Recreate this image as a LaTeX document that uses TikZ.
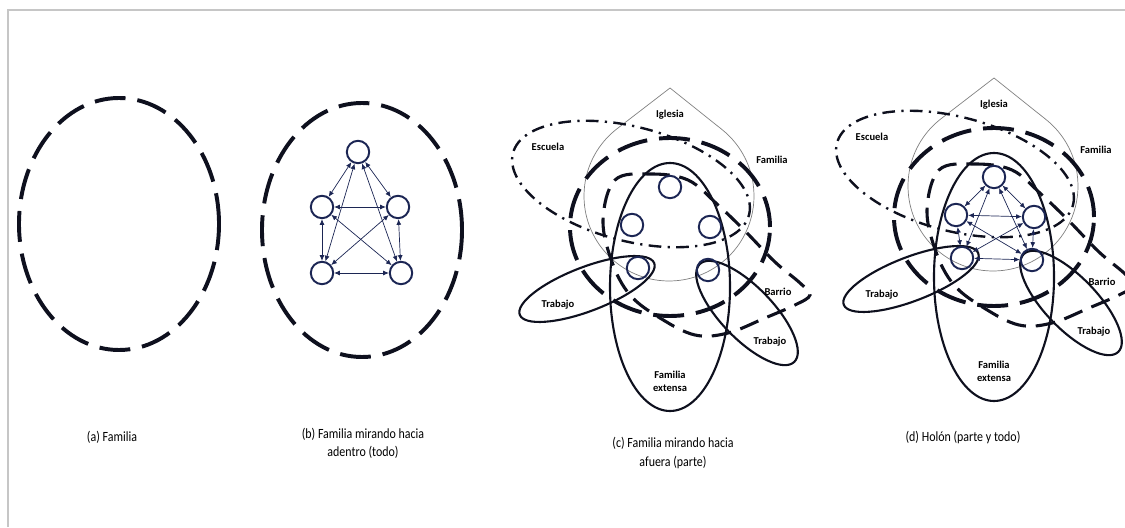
\documentclass[tikz,border=0pt]{standalone}
\usepackage{fontspec}
\setmainfont{Carlito}
\newfontfamily\leyfont[FakeStretch=0.85]{Carlito}
\usetikzlibrary{arrows.meta}
\definecolor{tinta}{RGB}{14,16,30}
\definecolor{marino}{RGB}{28,38,84}
\tikzset{
  famdash/.style={draw=tinta, line width=2.8pt, dash pattern=on 22pt off 8.5pt},
  barriodash/.style={draw=tinta, line width=2.2pt, dash pattern=on 14pt off 7pt},
  escueladash/.style={draw=tinta, line width=1.7pt, dash pattern=on 9pt off 4.5pt on 1.6pt off 4.5pt},
  iglesia/.style={draw=gray, line width=0.5pt},
  sistema/.style={draw=tinta, line width=1.5pt},
  miembro/.style={draw=marino, circle, line width=1.4pt, minimum size=0.56cm, inner sep=0pt},
  relacion/.style={draw=marino, line width=0.5pt, {Latex[length=4pt,width=3.5pt]}-{Latex[length=4pt,width=3.5pt]}},
  etiqueta/.style={font=\bfseries\fontsize{7.5}{9.2}\selectfont, inner sep=0pt, align=center},
  leyenda/.style={font=\leyfont\fontsize{10}{13}\selectfont, inner sep=0pt, align=center}
}

\begin{document}
\begin{tikzpicture}[x=0.025cm, y=0.025cm]
  \useasboundingbox (0,0) rectangle (1125,527);
  \draw[gray!45, line width=0.9pt] (8,0) -- (8,517) -- (1125,517);

  % (a) familia sola
  \draw[famdash] (119,303) ellipse [x radius=100, y radius=126];
  \node[leyenda] (capa) at (112,90) {(a) Familia};

  % (b) mirando hacia adentro
  \draw[famdash] (362,297) ellipse [x radius=100, y radius=127];
  \node[miembro] (b1) at (358,375) {};
  \node[miembro] (b2) at (322,320) {};
  \node[miembro] (b3) at (398,320) {};
  \node[miembro] (b4) at (322,254) {};
  \node[miembro] (b5) at (401,254) {};
  \foreach \i/\j in {1/2,1/3,1/4,1/5,2/3,2/4,2/5,3/4,3/5,4/5}
    \draw[relacion] (b\i) -- (b\j);
  \node[leyenda] (capb) at (363,84) {(b) Familia mirando hacia\\adentro (todo)};

  % (c) y (d): los sistemas de fuera
  \foreach \pan/\dx/\dy in {c/0/0, d/324/10}{
    \begin{scope}[shift={(\dx,\dy)}]
      \draw[iglesia] (670,439) -- ([shift={(128.1:85)}]669,331)
        arc[start angle=128.1, end angle=411.9, radius=85] -- cycle;
      \draw[escueladash] (631,343) ellipse [x radius=122, y radius=57, rotate=-14.7];
      \draw[famdash] (670,300) ellipse [x radius=100, y radius=89];
      \draw[barriodash] plot[smooth cycle, tension=0.6] coordinates {
        (615,347) (650,353) (688,347) (718,322) (746,295) (775,265) (800,244)
        (810,232) (795,222) (765,209) (728,194) (695,192) (660,209) (630,232)
        (612,265) (603,307)};
      \draw[sistema] (670,240) ellipse [x radius=60, y radius=124];
      \draw[sistema] (587,238) ellipse [x radius=72, y radius=22, rotate=21];
      \draw[sistema] (747,214) ellipse [x radius=68, y radius=26, rotate=-46];
      \node[miembro] (\pan1) at (670,340) {};
      \node[miembro] (\pan2) at (632,302) {};
      \node[miembro] (\pan3) at (710,300) {};
      \node[miembro] (\pan4) at (638,259) {};
      \node[miembro] (\pan5) at (708,257) {};
      \node[etiqueta] (\pan-igl) at (670,412) {Iglesia};
      \node[etiqueta] (\pan-esc) at (548,380) {Escuela};
      \node[etiqueta] (\pan-fam) at (772,367) {Familia};
      \node[etiqueta] (\pan-bar) at (778,235) {Barrio};
      \node[etiqueta] (\pan-trl) at (558,222) {Trabajo};
      \node[etiqueta] (\pan-trr) at (770,185) {Trabajo};
      \node[etiqueta] (\pan-ext) at (670,146) {Familia\\extensa};
    \end{scope}
  }
  \foreach \i/\j in {1/2,1/3,1/4,1/5,2/3,2/4,2/5,3/4,3/5,4/5}
    \draw[relacion] (d\i) -- (d\j);
  \node[leyenda] (capc) at (673,74) {(c) Familia mirando hacia\\afuera (parte)};
  \node[leyenda] (capd) at (963,90) {(d) Holón (parte y todo)};
\end{tikzpicture}
\end{document}
